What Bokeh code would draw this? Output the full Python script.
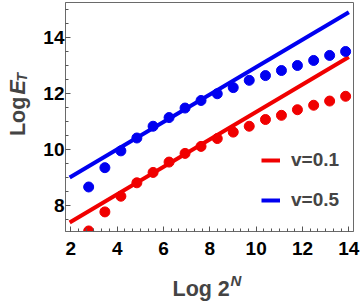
import math
from bokeh.plotting import figure
from bokeh.layouts import row, column
from bokeh.models import Label, Legend, LegendItem, SingleIntervalTicker, Range1d
from bokeh.embed import file_html
from bokeh.resources import INLINE

# x = Log 2^N for N = 4..20
x_vals = [2.77, 3.47, 4.16, 4.85, 5.55, 6.24, 6.93, 7.62, 8.32, 9.01,
          9.70, 10.40, 11.09, 11.78, 12.48, 13.17, 13.86]
y_v01 = [7.08, 7.76, 8.32, 8.80, 9.17, 9.54, 9.85, 10.10, 10.38, 10.61,
         10.82, 11.06, 11.21, 11.41, 11.57, 11.72, 11.89]
y_v05 = [8.65, 9.34, 9.94, 10.40, 10.82, 11.13, 11.47, 11.74, 11.98, 12.20,
         12.46, 12.63, 12.81, 12.99, 13.17, 13.35, 13.49]
fit_x = [1.95, 14.0]
fit_v01 = [7.38, 13.29]
fit_v05 = [8.99, 14.89]
series_labels = ["v=0.1", "v=0.5"]

FONT = "Liberation Sans"
RED = "#f00000"
BLUE = "#0000f0"
LABEL_SIZE = "21.5px"

MAIN_H = 264
p_main = figure(width=320, height=MAIN_H, x_range=(1.77, 14.2), y_range=(7.06, 15.24),
                output_backend="svg", toolbar_location=None,
                min_border_left=23, min_border_right=7, min_border_top=2,
                min_border_bottom=33)
p_main.grid.visible = False
p_main.outline_line_color = "#6a6a6a"
p_main.outline_line_width = 1

p_main.xaxis.ticker = SingleIntervalTicker(interval=2, num_minor_ticks=6)
p_main.yaxis.ticker = SingleIntervalTicker(interval=2, num_minor_ticks=4)
for ax in (p_main.xaxis[0], p_main.yaxis[0]):
    ax.axis_line_color = "#6a6a6a"
    ax.major_tick_line_color = "#555555"
    ax.minor_tick_line_color = "#555555"
    ax.major_tick_in = 5
    ax.major_tick_out = 0
    ax.minor_tick_in = 3
    ax.minor_tick_out = 0
    ax.major_label_text_font = FONT
    ax.major_label_text_font_style = "bold"
    ax.major_label_text_font_size = "19px"
    ax.major_label_text_color = "black"
p_main.xaxis.major_label_standoff = 10
p_main.yaxis.major_label_standoff = 1

r_red_line = p_main.line(fit_x, fit_v01, line_color=RED, line_width=4)
r_blue_line = p_main.line(fit_x, fit_v05, line_color=BLUE, line_width=4)
p_main.scatter(x_vals, y_v01, size=10, fill_color=RED, line_color=RED)
p_main.scatter(x_vals, y_v05, size=10, fill_color=BLUE, line_color=BLUE)

legend = Legend(items=[LegendItem(label=series_labels[0], renderers=[r_red_line]),
                       LegendItem(label=series_labels[1], renderers=[r_blue_line])],
                location=(196, 20), orientation="vertical",
                border_line_color=None, background_fill_alpha=0,
                padding=0, margin=0, spacing=18,
                glyph_width=19, glyph_height=20, label_height=20,
                label_standoff=11,
                label_text_font=FONT, label_text_font_style="bold",
                label_text_font_size="19px")
p_main.add_layout(legend)


def label_fig(w, h):
    f = figure(width=w, height=h, x_range=Range1d(0, w), y_range=Range1d(0, h),
               output_backend="svg", toolbar_location=None,
               x_axis_type=None, y_axis_type=None, min_border=0)
    f.grid.visible = False
    f.outline_line_color = None
    return f


# y-axis label: "Log E_T" (reads bottom to top)
ylab = label_fig(40, MAIN_H)
ang = math.pi / 2
ylab.add_layout(Label(x=17, y=110, text="Log", angle=ang, text_font=FONT,
                      text_font_style="bold", text_font_size=LABEL_SIZE,
                      text_baseline="alphabetic", text_align="left"))
ylab.add_layout(Label(x=17, y=158, text="E", angle=ang, text_font=FONT,
                      text_font_style="bold italic", text_font_size=LABEL_SIZE,
                      text_baseline="alphabetic", text_align="left"))
ylab.add_layout(Label(x=21, y=173, text="T", angle=ang, text_font=FONT,
                      text_font_style="bold italic", text_font_size="14px",
                      text_baseline="alphabetic", text_align="left"))

# x-axis label: "Log 2^N"
xlab = label_fig(360, 40)
xlab.add_layout(Label(x=172, y=16, text="Log 2", text_font=FONT,
                      text_font_style="bold", text_font_size=LABEL_SIZE,
                      text_baseline="alphabetic", text_align="left"))
xlab.add_layout(Label(x=230, y=24, text="N", text_font=FONT,
                      text_font_style="bold italic", text_font_size="15px",
                      text_baseline="alphabetic", text_align="left"))

p = column(row(ylab, p_main, spacing=0), xlab, spacing=0)

open("out.html", "w").write(file_html(p, INLINE))
